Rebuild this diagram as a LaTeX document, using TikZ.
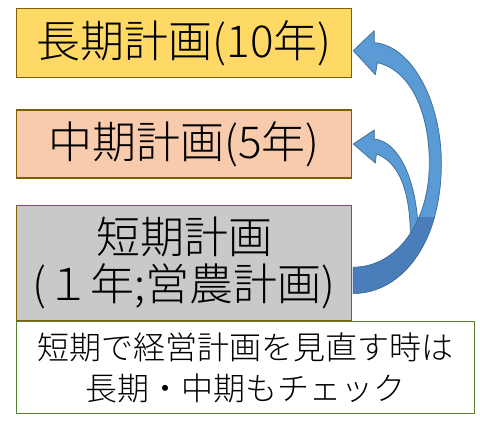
\documentclass[tikz,border=0pt]{standalone}
\usepackage{fontspec}
\newfontfamily\jp[UprightFont={* Light}]{Noto Sans CJK JP}
\usetikzlibrary{positioning,calc}
\usepackage{xcolor}
\definecolor{longfill}{HTML}{FFD966}
\definecolor{midfill}{HTML}{F8CBAD}
\definecolor{shortfill}{HTML}{C9C9C9}
\definecolor{boxline}{HTML}{7F6000}
\definecolor{noteline}{HTML}{548235}
\definecolor{arrowfill}{HTML}{5B9BD5}
\definecolor{arrowback}{HTML}{4A7EBB}
\definecolor{arrowline}{HTML}{41719C}

\begin{document}
\begin{tikzpicture}[
    x=0.75pt, y=-0.75pt,
    planbox/.style={draw=boxline, line width=1pt, minimum width=251.25pt, align=center, inner sep=0pt, font=\jp\fontsize{33}{35}\selectfont},
    notebox/.style={draw=noteline, line width=1pt, fill=white, minimum width=343.5pt, minimum height=69pt, align=center, inner sep=0pt, font=\jp\fontsize{24}{31}\selectfont},
    bigarrow/.style={fill=arrowfill, draw=arrowline, line width=0.6pt, line join=round}
]
  \useasboundingbox (0,0) rectangle (480,423);

  % Nodes
  \node (long) [planbox, fill=longfill, minimum height=51.75pt, anchor=north west] at (16,8) {長期計画(10年)};
  \node (mid) [planbox, fill=midfill, minimum height=51pt, below=23.25pt of long] {中期計画(5年)};
  \node (short) [planbox, fill=shortfill, minimum height=86.25pt, below=19.5pt of mid] {短期計画\\(１年;営農計画)};
  \node (note) [notebox, below=0pt of short.south west, anchor=north west] {短期で経営計画を見直す時は\\長期・中期もチェック};

  % Arrows
  \draw [bigarrow] ($(mid.east)+(1,0)$) -- ($(mid.east)+(22,-14)$) -- ($(mid.east)+(22,-5)$)
    .. controls ($(mid.east)+(49,-2)$) and ($(mid.east)+(67,43)$) .. ($(short.east)+(66,-19.5)$)
    -- ($(short.east)+(58,-19.5)$)
    .. controls ($(mid.east)+(59,48)$) and ($(mid.east)+(47,18)$) .. ($(mid.east)+(24,10)$)
    -- ($(mid.east)+(23,19)$) -- cycle;

  \path [save path=\outerarrow] ($(long.east)+(1,7.5)$) -- ($(long.east)+(22,-12.5)$) -- ($(long.east)+(22,-0.5)$)
    .. controls ($(long.east)+(59,2.5)$) and ($(long.east)+(89,57.5)$) .. ($(short.east)+(89,-99.5)$)
    .. controls ($(short.east)+(89,-19.5)$) and ($(short.east)+(49,30.5)$) .. ($(short.east)+(1,30.5)$)
    -- ($(short.east)+(1,4.5)$)
    .. controls ($(short.east)+(44,4.5)$) and ($(short.east)+(77,-39.5)$) .. ($(short.east)+(77,-99.5)$)
    .. controls ($(long.east)+(77,62.5)$) and ($(long.east)+(54,25.5)$) .. ($(long.east)+(25,19.5)$)
    -- ($(long.east)+(23,31.5)$) -- cycle;
  \draw [bigarrow, use path=\outerarrow];
  \begin{scope}
    \clip ($(short.east)+(0,-45)$) rectangle ($(short.east)+(100,40)$);
    \draw [bigarrow, fill=arrowback, use path=\outerarrow];
  \end{scope}
\end{tikzpicture}
\end{document}
